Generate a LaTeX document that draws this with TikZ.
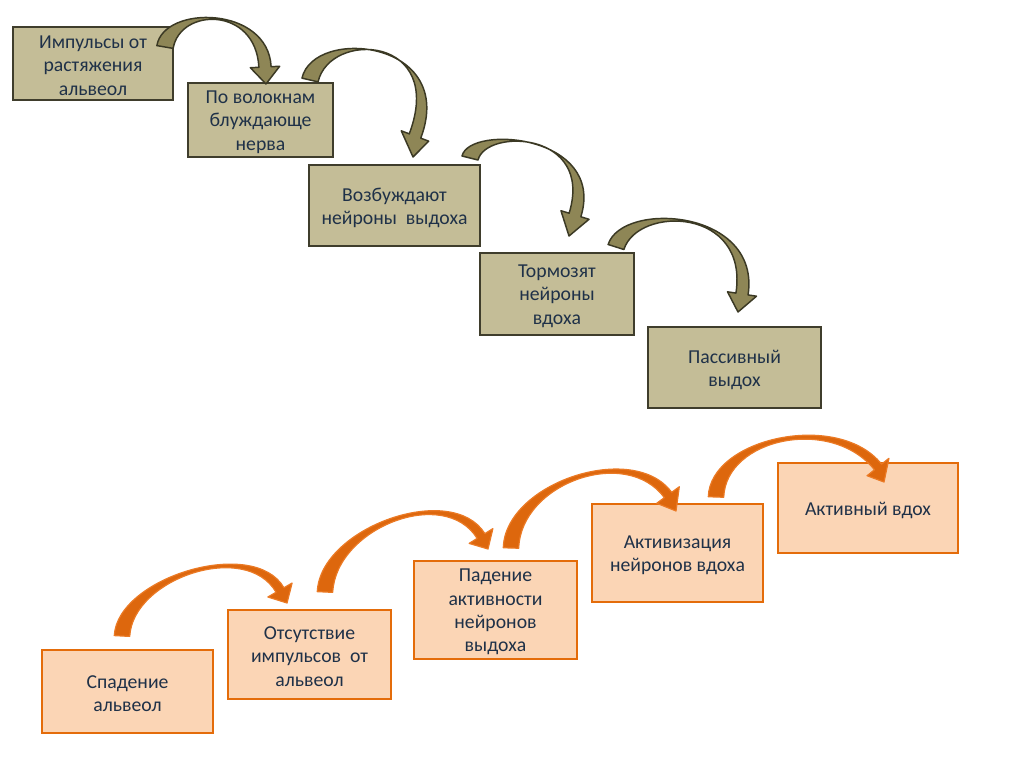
\documentclass[tikz,border=0pt]{standalone}
\usepackage{fontspec}
\setmainfont{Carlito}
\usetikzlibrary{calc,fit}
\definecolor{tanfill}{HTML}{C4BD97}
\definecolor{tanline}{HTML}{3F3D2C}
\definecolor{olivearr}{HTML}{8E8656}
\definecolor{olivedark}{HTML}{3B3924}
\definecolor{peach}{HTML}{FBD5B5}
\definecolor{orline}{HTML}{E46C0A}
\definecolor{orarr}{HTML}{DD670D}
\definecolor{orarrline}{HTML}{EB7A25}
\definecolor{txt}{HTML}{1F3148}
\newcommand\carrow[9]{%
 \path[#1] ($(#2)!#7!90:(#3)$) .. controls ($(#3)!#7!-90:(#2)$) and ($(#4)!#8!90:(#5)$) .. ($(#5)!#8!-90:(#4)$)
   -- ($(#5)!#9!-90:(#4)$) -- (#6) -- ($(#5)!#9!90:(#4)$) -- ($(#5)!#8!90:(#4)$)
   .. controls ($(#4)!#8!-90:(#5)$) and ($(#3)!#7!90:(#2)$) .. ($(#2)!#7!-90:(#3)$) -- cycle;}
\tikzset{
  tbox/.style={draw=tanline, fill=tanfill, line width=2.2pt, inner sep=0pt},
  obox/.style={draw=orline, fill=peach, line width=2.2pt, inner sep=0pt},
  lbl/.style={align=center, inner sep=0pt, yshift=-1.6pt, text=txt, font=\fontsize{14.8}{17.5}\selectfont},
  tarrow/.style={fill=olivearr, draw=olivedark, line width=1.1pt, line join=round},
  oarrow/.style={fill=orarr, draw=orarrline, line width=0.9pt, line join=round},
}
\begin{document}
\begin{tikzpicture}[x=0.75pt,y=-0.75pt]
\useasboundingbox (0,0) rectangle (1024,767);
\fill[white] (0,0) rectangle (1024,767);
% top chain
\node[tbox, fit={(13,27) (173,100)}] (t1) {};
\node[lbl] (t1l) at (t1.center) {Импульсы от\\растяжения\\альвеол};
\node[tbox, fit={(188,83) (333,157)}] (t2) {};
\node[lbl] (t2l) at (t2.center) {По волокнам\\блуждающе\\нерва};
\node[tbox, fit={(309,165) (480,246)}] (t3) {};
\node[lbl] (t3l) at (t3.center) {Возбуждают\\нейроны\ \ выдоха};
\node[tbox, fit={(480,253) (634,335)}] (t4) {};
\node[lbl] (t4l) at (t4.center) {Тормозят\\нейроны\\вдоха};
\node[tbox, fit={(648,327) (821,408)}] (t5) {};
\node[lbl] (t5l) at (t5.center) {Пассивный\\выдох};
% bottom chain
\node[obox, fit={(42,650) (213,733)}] (b1) {};
\node[lbl] (b1l) at (b1.center) {Спадение\\альвеол};
\node[obox, fit={(228,610) (391,699)}] (b2) {};
\node[lbl] (b2l) at (b2.center) {Отсутствие\\импульсов\ \ от\\альвеол};
\node[obox, fit={(414,561) (577,659)}] (b3) {};
\node[lbl] (b3l) at (b3.center) {Падение\\активности\\нейронов\\выдоха};
\node[obox, fit={(592,504) (763,602)}] (b4) {};
\node[lbl] (b4l) at (b4.center) {Активизация\\нейронов вдоха};
\node[obox, fit={(778,463) (958,553)}] (b5) {};
\node[lbl] (b5l) at (b5.center) {Активный вдох};
% top arrows
\carrow{tarrow}{165,47}{172,6}{262,6}{265,67}{266,84}{6.2pt}{4.6pt}{11pt}
\carrow{tarrow}{310,80}{322,28}{452,38}{415,136}{413,157}{6.2pt}{4.6pt}{11pt}
\carrow{tarrow}{470,158}{478,126}{600,133}{575,215}{569,236}{6.2pt}{4.6pt}{11pt}
\carrow{tarrow}{616,247}{630,203}{755,208}{742,294}{738,312}{6.2pt}{4.6pt}{11pt}
% bottom arrows
\carrow{oarrow}{122,636}{125,578}{250,538}{280,590}{287,603}{5.8pt}{3.4pt}{10.5pt}
\carrow{oarrow}{325,592}{328,528}{448,483}{481,536}{488,549}{5.8pt}{3.4pt}{10.5pt}
\carrow{oarrow}{511,548}{513,483}{630,443}{668,495}{676,511}{5.8pt}{3.4pt}{10.5pt}
\carrow{oarrow}{716,497}{718,438}{835,413}{878,467}{884,482}{5.8pt}{3.4pt}{10.5pt}
\end{tikzpicture}
\end{document}
